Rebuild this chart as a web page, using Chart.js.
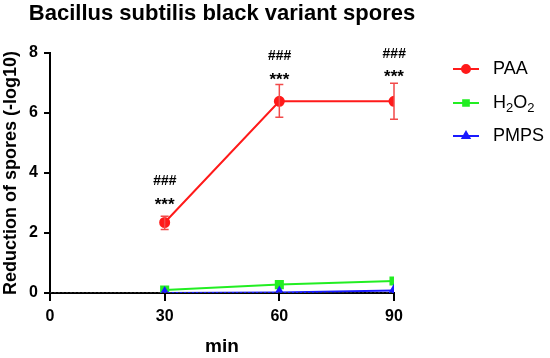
<!DOCTYPE html>
<html>
<head>
<meta charset="utf-8">
<script src="https://cdn.jsdelivr.net/npm/chart.js@4"></script>
<style>
  body { margin: 0; background: #fff; }
  #wrap { width: 550px; height: 358px; }
</style>
</head>
<body>
<div id="wrap"><canvas id="chart"></canvas></div>
<script>
const times = [30, 60, 90];
const paa = [2.35, 6.39, 6.39];
const paaLow = [2.12, 5.86, 5.79];
const paaHigh = [2.56, 6.95, 6.99];
const h2o2 = [0.1, 0.28, 0.4];
const pmps = [0.0, 0.02, 0.08];
const controlX = [0, 90];
const controlY = [0, 0];
const starLevel = [3.03, 7.2, 7.3];
const hashLevel = [3.73, 7.9, 7.97];
const yTicks = [0, 2, 4, 6, 8];
const xTicks = [0, 30, 60, 90];
const chartTitle = "Bacillus subtilis black variant spores";

const FONT = "'Liberation Sans', Arial, sans-serif";

function pts(xs, ys) {
  return xs.map((x, i) => ({ x: x, y: ys[i] }));
}

const extras = {
  id: "extras",
  afterDatasetsDraw(chart) {
    const ctx = chart.ctx;
    const xs = chart.scales.x;
    const ys = chart.scales.y;
    ctx.save();
    // error bars for PAA
    ctx.strokeStyle = "#f24a4a";
    ctx.lineWidth = 1.5;
    times.forEach((t, i) => {
      const px = xs.getPixelForValue(t);
      const top = ys.getPixelForValue(paaHigh[i]);
      const bot = ys.getPixelForValue(paaLow[i]);
      ctx.beginPath();
      ctx.moveTo(px, top); ctx.lineTo(px, bot);
      ctx.moveTo(px - 4, top); ctx.lineTo(px + 4, top);
      ctx.moveTo(px - 4, bot); ctx.lineTo(px + 4, bot);
      ctx.stroke();
    });
    // significance marks
    ctx.fillStyle = "#000";
    ctx.textAlign = "center";
    ctx.textBaseline = "middle";
    times.forEach((t, i) => {
      const px = xs.getPixelForValue(t);
      ctx.font = "bold 17px " + FONT;
      ctx.fillText("***", px, ys.getPixelForValue(starLevel[i]) + 3);
      ctx.font = "italic bold 14px " + FONT;
      ctx.fillText("###", px, ys.getPixelForValue(hashLevel[i]));
    });
    ctx.restore();
  },
  afterDraw(chart) {
    const ctx = chart.ctx;
    const area = chart.chartArea;
    ctx.save();
    // title, centred over the plot area
    ctx.fillStyle = "#000";
    ctx.font = "bold 22px " + FONT;
    ctx.textAlign = "center";
    ctx.textBaseline = "middle";
    ctx.fillText(chartTitle, (area.left + area.right) / 2, 14);

    const items = [
      { label: ["PAA"], color: "#ff1a1a", style: "circle", y: 69 },
      { label: ["H", "2", "O", "2"], color: "#22ee22", style: "rect", y: 103 },
      { label: ["PMPS"], color: "#1a1aff", style: "triangle", y: 136 }
    ];
    items.forEach(it => {
      ctx.strokeStyle = it.color;
      ctx.fillStyle = it.color;
      ctx.lineWidth = 2;
      ctx.beginPath();
      ctx.moveTo(453, it.y); ctx.lineTo(479, it.y);
      ctx.stroke();
      Chart.helpers.drawPoint(ctx, { pointStyle: it.style, radius: 4, borderWidth: 1 }, 466, it.y);
      ctx.fillStyle = "#000";
      ctx.textBaseline = "middle";
      ctx.textAlign = "left";
      let x = 493;
      it.label.forEach((part, k) => {
        const sub = it.label.length > 1 && k % 2 === 1;
        ctx.font = (sub ? "13px " : "18px ") + FONT;
        ctx.fillText(part, x, it.y + (sub ? 5 : 0));
        x += ctx.measureText(part).width;
      });
    });
    ctx.restore();
  }
};

new Chart(document.getElementById("chart"), {
  type: "line",
  data: {
    datasets: [
      {
        label: "control",
        data: pts(controlX, controlY),
        borderColor: "#333",
        borderWidth: 1.5,
        borderDash: [2, 2],
        pointRadius: 0
      },
      {
        label: "PMPS",
        data: pts(times, pmps),
        borderColor: "#1a1aff",
        backgroundColor: "#1a1aff",
        borderWidth: 2,
        pointStyle: "triangle",
        pointRadius: 5
      },
      {
        label: "H2O2",
        data: pts(times, h2o2),
        borderColor: "#22ee22",
        backgroundColor: "#22ee22",
        borderWidth: 2,
        pointStyle: "rect",
        pointRadius: 5
      },
      {
        label: "PAA",
        data: pts(times, paa),
        borderColor: "#ff1a1a",
        backgroundColor: "#ff1a1a",
        borderWidth: 2,
        pointStyle: "circle",
        pointRadius: 4.5
      }
    ]
  },
  plugins: [extras],
  options: {
    responsive: true,
    maintainAspectRatio: false,
    animation: false,
    layout: { padding: { left: 0, right: 156, top: 53, bottom: 0 } },
    plugins: {
      legend: { display: false },
      tooltip: { enabled: false },
      title: { display: false }
    },
    scales: {
      x: {
        type: "linear",
        min: 0,
        max: 90,
        afterBuildTicks: s => { s.ticks = xTicks.map(v => ({ value: v })); },
        afterFit: s => { s.height = 65; },
        border: { color: "#000", width: 2 },
        grid: { drawOnChartArea: false, drawTicks: true, tickLength: 8, color: "#000", lineWidth: 2 },
        ticks: { color: "#000", padding: 6, font: { family: FONT, size: 16, weight: "bold" } },
        title: {
          display: true,
          text: "min",
          color: "#000",
          font: { family: FONT, size: 19, weight: "bold" },
          padding: { top: 10, bottom: 0 }
        }
      },
      y: {
        min: 0,
        max: 8,
        afterBuildTicks: s => { s.ticks = yTicks.map(v => ({ value: v })); },
        afterFit: s => { s.width = 50; },
        border: { color: "#000", width: 2 },
        grid: { drawOnChartArea: false, drawTicks: true, tickLength: 6, color: "#000", lineWidth: 2 },
        ticks: { color: "#000", padding: 6, font: { family: FONT, size: 16, weight: "bold" } },
        title: {
          display: true,
          text: "Reduction of spores (-log10)",
          color: "#000",
          font: { family: FONT, size: 18, weight: "bold" },
          padding: { top: 0, bottom: 0 }
        }
      }
    }
  }
});
</script>
</body>
</html>
